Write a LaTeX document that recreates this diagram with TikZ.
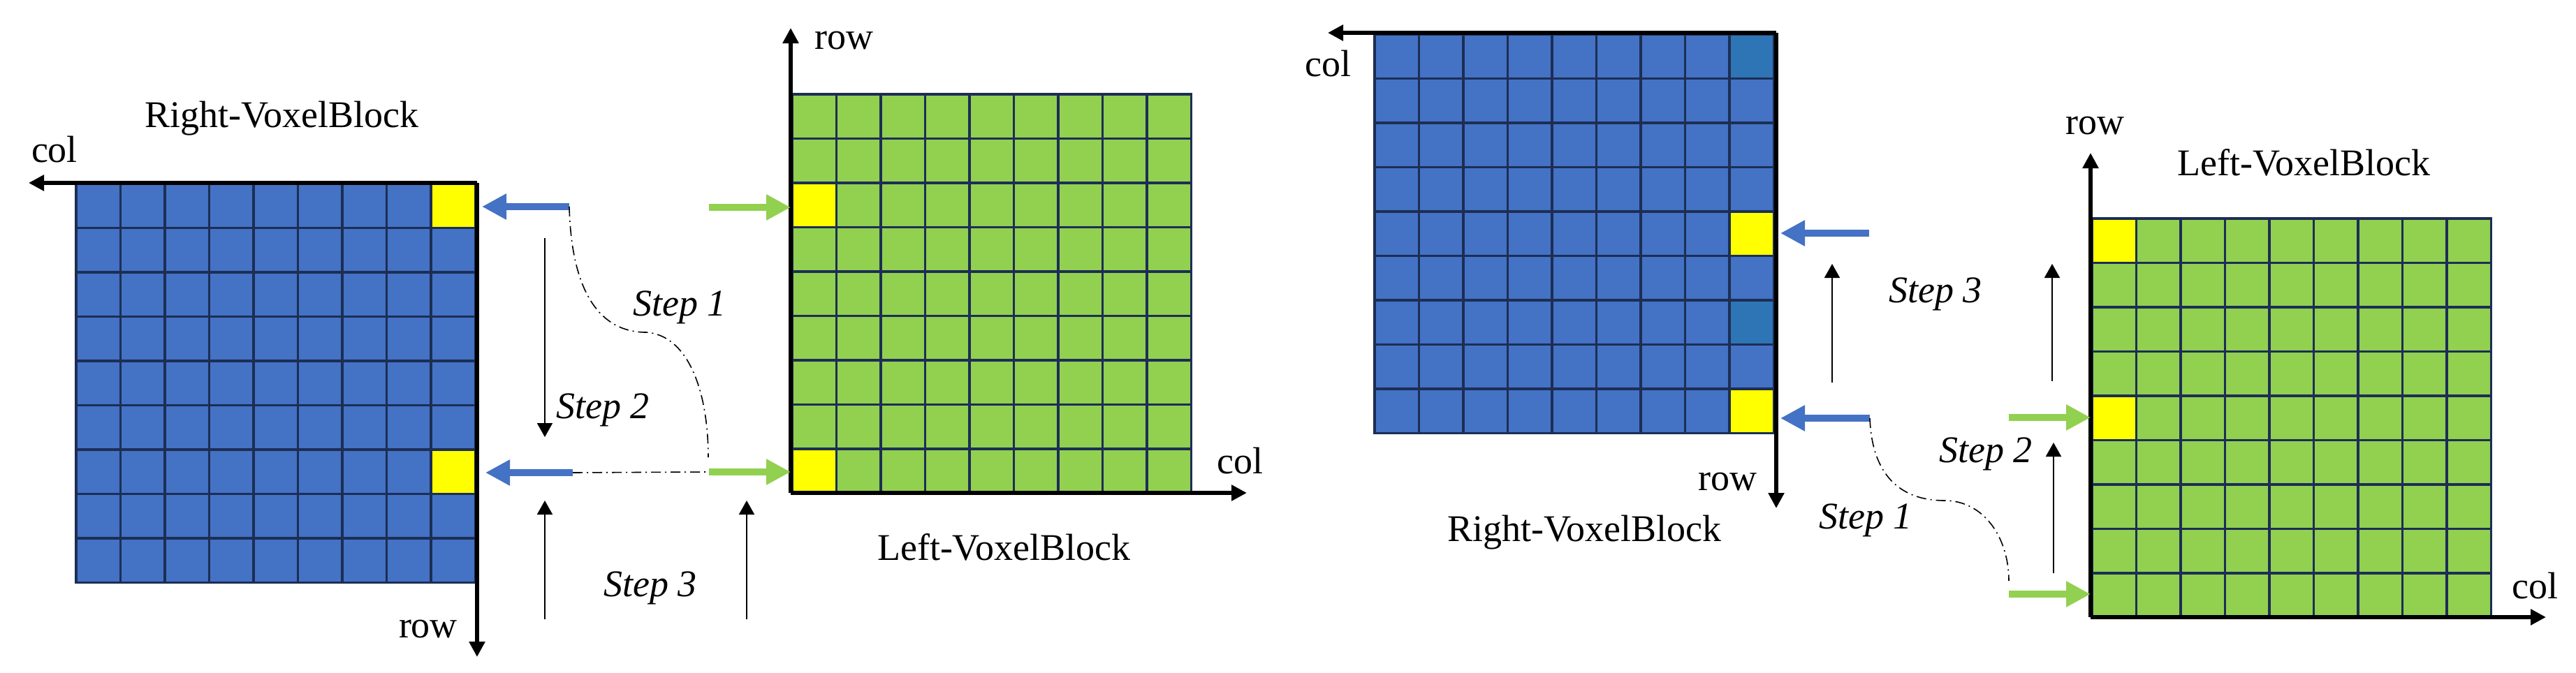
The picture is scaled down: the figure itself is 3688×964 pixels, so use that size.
\documentclass[tikz,border=0pt]{standalone}
\usepackage{fontspec}
\setmainfont{Liberation Serif}[ItalicFont=* Italic]
\usetikzlibrary{arrows.meta}
\definecolor{vblue}{HTML}{4472C4}
\definecolor{vgreen}{HTML}{92D050}
\definecolor{vyellow}{HTML}{FFFF00}
\definecolor{vteal}{HTML}{2E75B6}
\definecolor{vnavy}{HTML}{1C2E55}
\newcommand{\vxgrid}[3]{%
  \fill[#3] (#1,#2) rectangle ++(571.5,571.5);
}
\newcommand{\vxlines}[2]{%
  \foreach \i in {0,...,9} {
    \draw[gridline] ({#1+\i*63.5},#2) -- ++(0,571.5);
    \draw[gridline] (#1,{#2+\i*63.5}) -- ++(571.5,0);
  }
}
\newcommand{\vxcell}[5]{\fill[#5] ({#1+(#3-1)*63.5},{#2+(#4-1)*63.5}) rectangle ++(63.5,63.5);}
\tikzset{
  gridline/.style={vnavy, line width=0.9pt, line cap=rect},
  axis/.style={line width=1.5pt, -{Triangle[length=5.5pt,width=5.5pt]}},
  thinarrow/.style={line width=0.5pt, -{Triangle[length=5pt,width=5.5pt]}},
  bluearrow/.style={vblue, line width=2.5pt, -{Triangle[length=8.75pt,width=8.75pt]}},
  greenarrow/.style={vgreen, line width=2.5pt, -{Triangle[length=8.75pt,width=8.75pt]}},
  dashdotline/.style={line width=0.4pt, dash pattern=on 3.5pt off 1.5pt on 0.5pt off 1.5pt},
  lbl/.style={anchor=base, inner sep=0pt, font=\fontsize{13.5pt}{16pt}\selectfont},
  steplbl/.style={lbl, font=\fontsize{13.5pt}{16pt}\selectfont\itshape},
}
\begin{document}
\begin{tikzpicture}[x=0.25pt, y=-0.25pt]
\useasboundingbox (0,0) rectangle (3688,964);

% ---------------- Panel 1: Right-VoxelBlock (blue) ----------------
\vxgrid{109}{263}{vblue}
\vxcell{109}{263}{9}{1}{vyellow}
\vxcell{109}{263}{9}{7}{vyellow}
\vxlines{109}{263}
\coordinate (o1) at (683,262);
\coordinate (c1) at (41,262);
\coordinate (r1) at (683,941);
\draw[axis] (o1) -- (c1);
\draw[axis] (o1) -- (r1);
\node[lbl] (t1) at (403,182) {Right-VoxelBlock};
\node[lbl] (col1) at (78,232) {col};
\node[lbl] (row1) at (613,913) {row};

% ---------------- Panel 2: Left-VoxelBlock (green) ----------------
\vxgrid{1134}{135}{vgreen}
\vxcell{1134}{135}{1}{3}{vyellow}
\vxcell{1134}{135}{1}{9}{vyellow}
\vxlines{1134}{135}
\coordinate (o2) at (1132,706);
\coordinate (r2) at (1132,40);
\coordinate (c2) at (1785,706);
\draw[axis] (o2) -- (r2);
\draw[axis] (o2) -- (c2);
\node[lbl] (row2) at (1208,70) {row};
\node[lbl] (col2) at (1775,678) {col};
\node[lbl] (t2) at (1437,802) {Left-VoxelBlock};

% arrows between panel 1 and 2
\coordinate (b1s) at (815,296);
\coordinate (b1e) at (690,296);
\coordinate (b2s) at (820,677);
\coordinate (b2e) at (695,677);
\draw[bluearrow] (b1s) -- (b1e);
\draw[bluearrow] (b2s) -- (b2e);
\coordinate (g1s) at (1015,297);
\coordinate (g1e) at (1132,297);
\coordinate (g2s) at (1015,676);
\coordinate (g2e) at (1132,676);
\draw[greenarrow] (g1s) -- (g1e);
\draw[greenarrow] (g2s) -- (g2e);
\coordinate (m1) at (925,476);
\coordinate (e1) at (1014,655);
\draw[dashdotline] (b1s) .. controls (818,420) and (860,476) .. (m1)
                         .. controls (985,480) and (1014,560) .. (e1);
\draw[dashdotline] (b2s) -- (g2s);
% step arrows
\coordinate (s2a) at (780,341);
\coordinate (s2b) at (780,626);
\draw[thinarrow] (s2a) -- (s2b);
\coordinate (s3a) at (780,887);
\coordinate (s3b) at (780,717);
\draw[thinarrow] (s3a) -- (s3b);
\coordinate (s3c) at (1069,887);
\coordinate (s3d) at (1069,717);
\draw[thinarrow] (s3c) -- (s3d);
\node[steplbl] (st1a) at (973,452) {Step 1};
\node[steplbl] (st2a) at (863,599) {Step 2};
\node[steplbl] (st3a) at (931,854) {Step 3};

% ---------------- Panel 3: Right-VoxelBlock (blue) ----------------
\vxgrid{1968}{49}{vblue}
\vxcell{1968}{49}{9}{1}{vteal}
\vxcell{1968}{49}{9}{7}{vteal}
\vxcell{1968}{49}{9}{5}{vyellow}
\vxcell{1968}{49}{9}{9}{vyellow}
\vxlines{1968}{49}
\coordinate (o3) at (2543,47);
\coordinate (c3) at (1901,47);
\coordinate (r3) at (2543,728);
\draw[axis] (o3) -- (c3);
\draw[axis] (o3) -- (r3);
\node[lbl] (col3) at (1901,109) {col};
\node[lbl] (row3) at (2473,702) {row};
\node[lbl] (t3) at (2268,775) {Right-VoxelBlock};

% ---------------- Panel 4: Left-VoxelBlock (green) ----------------
\vxgrid{2995}{313}{vgreen}
\vxcell{2995}{313}{1}{1}{vyellow}
\vxcell{2995}{313}{1}{5}{vyellow}
\vxlines{2995}{313}
\coordinate (o4) at (2993,884);
\coordinate (r4) at (2993,219);
\coordinate (c4) at (3645,884);
\draw[axis] (o4) -- (r4);
\draw[axis] (o4) -- (c4);
\node[lbl] (row4) at (2999,192) {row};
\node[lbl] (t4) at (3298,251) {Left-VoxelBlock};
\node[lbl] (col4) at (3629,857) {col};

% arrows between panel 3 and 4
\coordinate (b3s) at (2676,334);
\coordinate (b3e) at (2549,334);
\coordinate (b4s) at (2677,599);
\coordinate (b4e) at (2549,599);
\draw[bluearrow] (b3s) -- (b3e);
\draw[bluearrow] (b4s) -- (b4e);
\coordinate (g3s) at (2876,598);
\coordinate (g3e) at (2993,598);
\coordinate (g4s) at (2876,851);
\coordinate (g4e) at (2993,851);
\draw[greenarrow] (g3s) -- (g3e);
\draw[greenarrow] (g4s) -- (g4e);
\coordinate (m2) at (2784,717);
\coordinate (e2) at (2876,832);
\draw[dashdotline] (b4s) .. controls (2680,680) and (2720,717) .. (m2)
                         .. controls (2840,717) and (2876,770) .. (e2);
\coordinate (s5a) at (2623,548);
\coordinate (s5b) at (2623,378);
\draw[thinarrow] (s5a) -- (s5b);
\coordinate (s6a) at (2938,546);
\coordinate (s6b) at (2938,378);
\draw[thinarrow] (s6a) -- (s6b);
\coordinate (s7a) at (2940,821);
\coordinate (s7b) at (2940,634);
\draw[thinarrow] (s7a) -- (s7b);
\node[steplbl] (st3b) at (2771,433) {Step 3};
\node[steplbl] (st2b) at (2843,662) {Step 2};
\node[steplbl] (st1b) at (2671,757) {Step 1};
\end{tikzpicture}
\end{document}
